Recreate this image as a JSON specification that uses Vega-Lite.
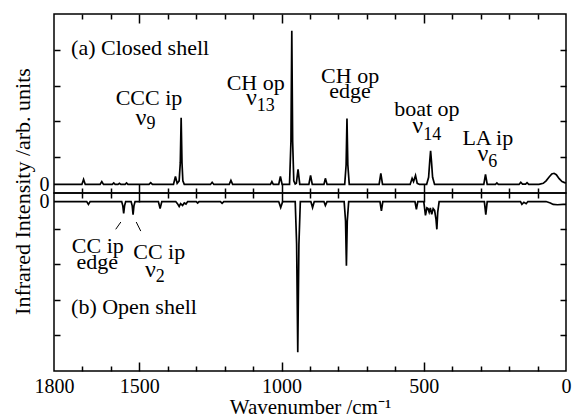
{
  "$schema": "https://vega.github.io/schema/vega-lite/v6.json",
  "padding": {"left": 10, "top": 12, "right": 2, "bottom": 2},
  "bounds": "flush",
  "spacing": 0,
  "config": {
    "view": {"stroke": "black", "strokeWidth": 1.5},
    "font": "Liberation Serif",
    "axis": {"grid": false, "domain": false, "minExtent": 0, "maxExtent": 400, "tickColor": "black", "tickWidth": 1.5, "labelColor": "black", "titleColor": "black", "labelFont": "Liberation Serif", "titleFont": "Liberation Serif", "titleFontWeight": "normal"},
    "text": {"font": "Liberation Serif", "color": "black"}
  },
  "datasets": {
    "closed": [
      {"wn":1800,"i":0},
      {"wn":1702,"i":0},{"wn":1696,"i":0.14},{"wn":1690,"i":0},
      {"wn":1638,"i":0},{"wn":1632,"i":0.08},{"wn":1626,"i":0},
      {"wn":1595,"i":0},{"wn":1590,"i":0.04},{"wn":1585,"i":0},
      {"wn":1575,"i":0},{"wn":1570,"i":0.03},{"wn":1565,"i":0},
      {"wn":1550,"i":0},{"wn":1545,"i":0.04},{"wn":1540,"i":0},
      {"wn":1466,"i":0},{"wn":1460,"i":0.05},{"wn":1454,"i":0},
      {"wn":1380,"i":0},{"wn":1373,"i":0.22},{"wn":1367,"i":0.03},{"wn":1360,"i":0.1},{"wn":1356,"i":0.6},{"wn":1353,"i":1.86},{"wn":1350,"i":0.6},{"wn":1347,"i":0.1},{"wn":1342,"i":0},
      {"wn":1250,"i":0},{"wn":1244,"i":0.06},{"wn":1238,"i":0},
      {"wn":1184,"i":0},{"wn":1178,"i":0.11},{"wn":1172,"i":0},
      {"wn":1039,"i":0},{"wn":1034,"i":0.08},{"wn":1029,"i":0},
      {"wn":1010,"i":0},{"wn":1004,"i":0.22},{"wn":998,"i":0},
      {"wn":972,"i":0},{"wn":967,"i":1.2},{"wn":964,"i":4.29},{"wn":961,"i":1.2},{"wn":957,"i":0.1},{"wn":952,"i":0.01},
      {"wn":948,"i":0.03},{"wn":942,"i":0.42},{"wn":936,"i":0},
      {"wn":904,"i":0},{"wn":898,"i":0.25},{"wn":892,"i":0},
      {"wn":851,"i":0},{"wn":846,"i":0.17},{"wn":840,"i":0},
      {"wn":778,"i":0},{"wn":773,"i":0.55},{"wn":770,"i":1.84},{"wn":767,"i":0.55},{"wn":762,"i":0},
      {"wn":657,"i":0},{"wn":651,"i":0.31},{"wn":645,"i":0},
      {"wn":548,"i":0},{"wn":541,"i":0.17},{"wn":536,"i":0.08},{"wn":529,"i":0.25},{"wn":523,"i":0.03},{"wn":515,"i":0},
      {"wn":490,"i":0},{"wn":483,"i":0.2},{"wn":479,"i":0.65},{"wn":476,"i":0.94},{"wn":473,"i":0.65},{"wn":469,"i":0.2},{"wn":462,"i":0},
      {"wn":289,"i":0},{"wn":283,"i":0.28},{"wn":277,"i":0},
      {"wn":248,"i":0},{"wn":243,"i":0.04},{"wn":238,"i":0},
      {"wn":165,"i":0},{"wn":159,"i":0.06},{"wn":153,"i":0.01},{"wn":142,"i":0.01},{"wn":137,"i":0.05},{"wn":131,"i":0},
      {"wn":95,"i":0},{"wn":80,"i":0.03},{"wn":70,"i":0.1},{"wn":60,"i":0.2},{"wn":50,"i":0.29},{"wn":42,"i":0.31},{"wn":34,"i":0.27},{"wn":24,"i":0.16},{"wn":14,"i":0.08},{"wn":5,"i":0.05},{"wn":0,"i":0.04}
    ],
    "open": [
      {"wn":1800,"i":0},
      {"wn":1685,"i":0},{"wn":1679,"i":-0.08},{"wn":1673,"i":0},
      {"wn":1562,"i":0},{"wn":1558,"i":-0.12},{"wn":1555,"i":-0.33},{"wn":1552,"i":-0.12},{"wn":1548,"i":0},
      {"wn":1529,"i":0},{"wn":1525,"i":-0.12},{"wn":1522,"i":-0.37},{"wn":1519,"i":-0.12},{"wn":1515,"i":0},
      {"wn":1433,"i":0},{"wn":1427,"i":-0.2},{"wn":1421,"i":0},
      {"wn":1372,"i":0},{"wn":1366,"i":-0.06},{"wn":1360,"i":-0.14},{"wn":1355,"i":-0.06},{"wn":1348,"i":-0.11},{"wn":1342,"i":-0.04},{"wn":1336,"i":-0.07},{"wn":1330,"i":0},
      {"wn":1300,"i":0},{"wn":1295,"i":-0.04},{"wn":1290,"i":0},
      {"wn":1215,"i":0},{"wn":1209,"i":-0.05},{"wn":1203,"i":0},
      {"wn":1010,"i":0},{"wn":1003,"i":-0.17},{"wn":996,"i":0},
      {"wn":952,"i":0},{"wn":947,"i":-1.2},{"wn":943,"i":-4.23},{"wn":939,"i":-1.2},{"wn":934,"i":0},
      {"wn":897,"i":0},{"wn":891,"i":-0.17},{"wn":885,"i":0},
      {"wn":851,"i":0},{"wn":846,"i":-0.11},{"wn":840,"i":0},
      {"wn":780,"i":0},{"wn":775,"i":-0.55},{"wn":772,"i":-1.8},{"wn":769,"i":-0.55},{"wn":764,"i":0},
      {"wn":654,"i":0},{"wn":649,"i":-0.26},{"wn":644,"i":0},
      {"wn":531,"i":0},{"wn":526,"i":-0.22},{"wn":521,"i":0},
      {"wn":500,"i":0},{"wn":494,"i":-0.39},{"wn":489,"i":-0.18},{"wn":485,"i":-0.2},{"wn":481,"i":-0.3},{"wn":477,"i":-0.18},{"wn":472,"i":-0.36},{"wn":467,"i":-0.2},{"wn":462,"i":-0.25},{"wn":457,"i":-0.5},{"wn":454,"i":-0.78},{"wn":451,"i":-0.3},{"wn":446,"i":0},
      {"wn":287,"i":0},{"wn":282,"i":-0.37},{"wn":277,"i":0},
      {"wn":160,"i":0},{"wn":155,"i":-0.08},{"wn":148,"i":-0.02},{"wn":140,"i":-0.06},{"wn":134,"i":0},
      {"wn":70,"i":0},{"wn":55,"i":-0.04},{"wn":45,"i":-0.08},{"wn":30,"i":-0.09},{"wn":10,"i":-0.08},{"wn":0,"i":-0.08}
    ],
    "annot": [
      {"panel":"a","kind":"main","t":"CCC ip","wn":1466,"y":2.21},
      {"panel":"a","kind":"main","t":"CH op","wn":1091,"y":2.65},
      {"panel":"a","kind":"main","t":"CH op","wn":759,"y":2.84},
      {"panel":"a","kind":"main","t":"edge","wn":759,"y":2.42},
      {"panel":"a","kind":"main","t":"boat op","wn":489,"y":1.9},
      {"panel":"a","kind":"main","t":"LA ip","wn":275,"y":1.11},
      {"panel":"a","kind":"title","t":"(a) Closed shell","wn":1740,"y":3.61},
      {"panel":"a","kind":"nu","t":"ν","wn":1475,"y":1.67},
      {"panel":"a","kind":"sub","t":"9","wn":1475,"y":1.55},
      {"panel":"a","kind":"nu","t":"ν","wn":1087,"y":2.23},
      {"panel":"a","kind":"sub","t":"13","wn":1087,"y":2.06},
      {"panel":"a","kind":"nu","t":"ν","wn":502,"y":1.43},
      {"panel":"a","kind":"sub","t":"14","wn":502,"y":1.25},
      {"panel":"a","kind":"nu","t":"ν","wn":273,"y":0.66},
      {"panel":"a","kind":"sub","t":"6","wn":273,"y":0.5},
      {"panel":"b","kind":"main","t":"CC ip","wn":1646,"y":-1.44},
      {"panel":"b","kind":"main","t":"edge","wn":1648,"y":-1.9},
      {"panel":"b","kind":"main","t":"CC ip","wn":1430,"y":-1.62},
      {"panel":"b","kind":"nu","t":"ν","wn":1442,"y":-2.11},
      {"panel":"b","kind":"sub","t":"2","wn":1442,"y":-2.26},
      {"panel":"b","kind":"title","t":"(b) Open shell","wn":1740,"y":-3.17}
    ],
    "leaders": [
      {"wn":1583,"y":-0.78,"wn2":1565,"y2":-0.575},
      {"wn":1511,"y":-0.575,"wn2":1495,"y2":-0.83}
    ]
  },
  "vconcat": [
    {
      "width": 512, "height": 179,
      "layer": [
        {
          "data": {"name": "closed"},
          "mark": {"type": "line", "color": "black", "strokeWidth": 1.7},
          "encoding": {
            "x": {"field": "wn", "type": "quantitative", "scale": {"domain": [0, 1800], "reverse": true, "nice": false, "zero": false},
                  "axis": {"orient": "top", "values": [100,200,300,400,500,600,700,800,900,1000,1100,1200,1300,1400,1500,1600,1700], "labels": false, "title": null, "tickSize": {"condition": {"test": "datum.value % 500 === 0", "value": -9}, "value": -5}}},
            "y": {"field": "i", "type": "quantitative", "scale": {"domain": [-0.24, 4.76], "nice": false, "zero": false},
                  "axis": {"orient": "left", "values": [0.76, 1.76, 2.76, 3.76], "labels": false, "tickSize": -6, "title": "Infrared Intensity /arb. units", "titleFontSize": 22, "titleX": -32, "titleY": 177, "titleAlign": "center", "titleBaseline": "middle"}}
          }
        },
        {
          "data": {"name": "annot"},
          "transform": [{"filter": "datum.panel == 'a' && datum.kind == 'main'"}],
          "mark": {"type": "text", "fontSize": 22, "baseline": "alphabetic", "align": "center"},
          "encoding": {
            "x": {"field": "wn", "type": "quantitative",
                  "axis": {"orient": "bottom", "values": [100,200,300,400,500,600,700,800,900,1000,1100,1200,1300,1400,1500,1600,1700], "labels": false, "title": null, "tickSize": {"condition": {"test": "datum.value % 500 === 0", "value": -9}, "value": -5}}},
            "y": {"field": "y", "type": "quantitative",
                  "axis": {"orient": "right", "values": [0.76, 1.76, 2.76, 3.76], "labels": false, "tickSize": -6, "title": null}},
            "text": {"field": "t"}
          }
        },
        {
          "data": {"name": "annot"},
          "transform": [{"filter": "datum.panel == 'a' && datum.kind == 'title'"}],
          "mark": {"type": "text", "fontSize": 22, "baseline": "alphabetic", "align": "left"},
          "encoding": {
            "x": {"field": "wn", "type": "quantitative", "axis": null},
            "y": {"field": "y", "type": "quantitative",
                  "axis": {"orient": "left", "values": [0], "ticks": false, "labelPadding": 5, "labelFontSize": 20, "title": null, "labelBaseline": "middle"}},
            "text": {"field": "t"}
          }
        },
        {
          "data": {"name": "annot"},
          "transform": [{"filter": "datum.panel == 'a' && datum.kind == 'nu'"}],
          "mark": {"type": "text", "fontSize": 24, "baseline": "alphabetic", "align": "right"},
          "encoding": {
            "x": {"field": "wn", "type": "quantitative", "axis": null},
            "y": {"field": "y", "type": "quantitative", "axis": null},
            "text": {"field": "t"}
          }
        },
        {
          "data": {"name": "annot"},
          "transform": [{"filter": "datum.panel == 'a' && datum.kind == 'sub'"}],
          "mark": {"type": "text", "fontSize": 18, "baseline": "alphabetic", "align": "left"},
          "encoding": {
            "x": {"field": "wn", "type": "quantitative", "axis": null},
            "y": {"field": "y", "type": "quantitative", "axis": null},
            "text": {"field": "t"}
          }
        }
      ],
      "resolve": {"axis": {"x": "independent", "y": "independent"}}
    },
    {
      "width": 512, "height": 178,
      "layer": [
        {
          "data": {"name": "open"},
          "mark": {"type": "line", "color": "black", "strokeWidth": 1.7},
          "encoding": {
            "x": {"field": "wn", "type": "quantitative", "scale": {"domain": [0, 1800], "reverse": true, "nice": false, "zero": false},
                  "axis": {"orient": "top", "values": [100,200,300,400,500,600,700,800,900,1000,1100,1200,1300,1400,1500,1600,1700], "labels": false, "title": null, "tickSize": {"condition": {"test": "datum.value % 500 === 0", "value": -9}, "value": -5}}},
            "y": {"field": "i", "type": "quantitative", "scale": {"domain": [-4.76, 0.24], "nice": false, "zero": false},
                  "axis": {"orient": "left", "values": [-3.76, -2.76, -1.76, -0.76], "labels": false, "tickSize": -6, "title": null}}
          }
        },
        {
          "data": {"name": "annot"},
          "transform": [{"filter": "datum.panel == 'b' && datum.kind == 'main'"}],
          "mark": {"type": "text", "fontSize": 22, "baseline": "alphabetic", "align": "center"},
          "encoding": {
            "x": {"field": "wn", "type": "quantitative",
                  "axis": {"orient": "bottom", "values": [100,200,300,400,500,600,700,800,900,1000,1100,1200,1300,1400,1500,1600,1700], "labels": false, "title": null, "tickSize": {"condition": {"test": "datum.value % 500 === 0", "value": -9}, "value": -5}}},
            "y": {"field": "y", "type": "quantitative",
                  "axis": {"orient": "right", "values": [-3.76, -2.76, -1.76, -0.76], "labels": false, "tickSize": -6, "title": null}},
            "text": {"field": "t"}
          }
        },
        {
          "data": {"name": "annot"},
          "transform": [{"filter": "datum.panel == 'b' && datum.kind == 'title'"}],
          "mark": {"type": "text", "fontSize": 22, "baseline": "alphabetic", "align": "left"},
          "encoding": {
            "x": {"field": "wn", "type": "quantitative",
                  "axis": {"orient": "bottom", "values": [1800, 1500, 1000, 500, 0], "format": "d", "ticks": false, "labelPadding": 5, "labelFontSize": 20, "labelFlush": false, "labelOverlap": false, "title": "Wavenumber /cm⁻¹", "titleFontSize": 21, "titlePadding": 0}},
            "y": {"field": "y", "type": "quantitative",
                  "axis": {"orient": "left", "values": [0], "ticks": false, "labelPadding": 5, "labelFontSize": 20, "title": null, "labelBaseline": "middle"}},
            "text": {"field": "t"}
          }
        },
        {
          "data": {"name": "annot"},
          "transform": [{"filter": "datum.panel == 'b' && datum.kind == 'nu'"}],
          "mark": {"type": "text", "fontSize": 24, "baseline": "alphabetic", "align": "right"},
          "encoding": {
            "x": {"field": "wn", "type": "quantitative", "axis": null},
            "y": {"field": "y", "type": "quantitative", "axis": null},
            "text": {"field": "t"}
          }
        },
        {
          "data": {"name": "annot"},
          "transform": [{"filter": "datum.panel == 'b' && datum.kind == 'sub'"}],
          "mark": {"type": "text", "fontSize": 18, "baseline": "alphabetic", "align": "left"},
          "encoding": {
            "x": {"field": "wn", "type": "quantitative", "axis": null},
            "y": {"field": "y", "type": "quantitative", "axis": null},
            "text": {"field": "t"}
          }
        },
        {
          "data": {"name": "leaders"},
          "mark": {"type": "rule", "color": "black", "strokeWidth": 1},
          "encoding": {
            "x": {"field": "wn", "type": "quantitative", "axis": null},
            "x2": {"field": "wn2"},
            "y": {"field": "y", "type": "quantitative", "axis": null},
            "y2": {"field": "y2"}
          }
        }
      ],
      "resolve": {"axis": {"x": "independent", "y": "independent"}}
    }
  ]
}
